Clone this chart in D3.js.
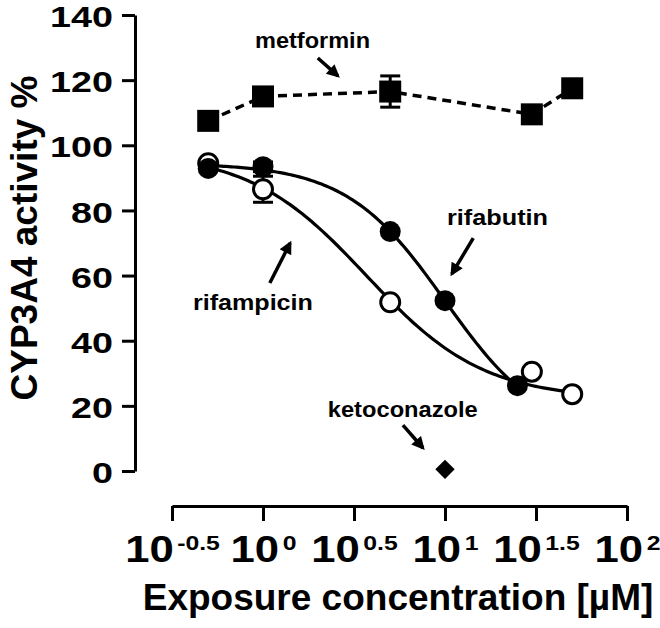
<!DOCTYPE html>
<html>
<head>
<meta charset="utf-8">
<script src="https://cdn.jsdelivr.net/npm/d3@7"></script>
<style>
  body { margin: 0; background: #fff; }
  text { font-family: "Liberation Sans", Arial, sans-serif; font-weight: bold; fill: #000; }
</style>
</head>
<body>
<div id="chart"></div>
<script>
// ---------- data ----------
const metforminX = [0.5, 1, 5, 30, 50];
const metforminY = [107.5, 115, 116.5, 109.5, 117.5];
const metforminErr = [0, 0, 4.8, 0, 0];

const rifabutinX = [0.5, 1, 5, 10, 25];
const rifabutinY = [92.9, 93.4, 73.5, 52.3, 26.2];
const rifabutinErr = [0, 1.5, 0, 0, 0];

const rifampicinX = [0.5, 1, 5, 30, 50];
const rifampicinY = [94.5, 86.5, 51.8, 30.5, 23.6];
const rifampicinErr = [0, 4, 0, 0, 0];

const ketoconazoleX = [10];
const ketoconazoleY = [0.5];

// fitted 4PL curves: [top, bottom, IC50, hill]
const rifabutinFit = [94.5, 10, 10, 1.6];
const rifampicinFit = [98, 22, 3.7, 1.35];

const yTicks = [0, 20, 40, 60, 80, 100, 120, 140];
const xTickExp = ["-0.5", "0", "0.5", "1", "1.5", "2"];

// annotations (data units): label, text x, text y, arrow from x/y, arrow to x/y
const noteLabels = ["metformin", "rifabutin", "rifampicin", "ketoconazole"];
const noteTextX = [0.904, 10.26, 0.412, 2.27];
const noteTextY = [129.9, 75.5, 49.4, 16.6];
const noteFromX = [2.0, 14.3, 1.09, 5.87];
const noteFromY = [126.8, 71.5, 57.7, 14.1];
const noteToX = [2.58, 10.9, 1.41, 7.57];
const noteToY = [121.3, 60.5, 70.0, 7.06];
const noteWidth = [115, 101, 120, 150];

// ---------- layout ----------
const width = 660, height = 628;
const xAxisY = 506, yAxisX = 135;

const svg = d3.select("#chart").append("svg")
    .attr("width", width)
    .attr("height", height)
    .style("background", "#fff");

const xScale = d3.scaleLog()
    .domain([Math.pow(10, -0.5), 100])
    .range([172, 627]);

const yScale = d3.scaleLinear()
    .domain([0, 140])
    .range([471, 15]);

// arrowhead
svg.append("defs").append("marker")
    .attr("id", "arrow")
    .attr("viewBox", "0 0 10 10")
    .attr("refX", 8)
    .attr("refY", 5)
    .attr("markerUnits", "userSpaceOnUse")
    .attr("markerWidth", 14)
    .attr("markerHeight", 13)
    .attr("orient", "auto")
    .append("path")
    .attr("d", "M0,0 L10,5 L0,10 z")
    .attr("fill", "#000");

// ---------- axes ----------
const leftAxis = d3.axisLeft(yScale)
    .tickValues(yTicks)
    .tickSize(13)
    .tickSizeOuter(0)
    .tickPadding(9);

const gy = svg.append("g")
    .attr("transform", `translate(${yAxisX},0)`)
    .call(leftAxis);
gy.select(".domain").attr("stroke-width", 3);
gy.selectAll(".tick line").attr("stroke-width", 3);
gy.selectAll(".tick text")
    .attr("font-size", 29)
    .attr("dy", "0.4em")
    .attr("x", -22 / 1.3)
    .attr("transform", "scale(1.3,1)");

const bottomAxis = d3.axisBottom(xScale)
    .tickValues(xTickExp.map(e => Math.pow(10, +e)))
    .tickSize(15)
    .tickSizeOuter(0)
    .tickFormat("");

const gx = svg.append("g")
    .attr("transform", `translate(0,${xAxisY})`)
    .call(bottomAxis);
gx.select(".domain").attr("stroke-width", 3);
gx.selectAll(".tick line").attr("stroke-width", 3);
gx.selectAll(".tick text").each(function(d, i) {
    const t = d3.select(this)
        .attr("y", 56)
        .attr("dy", 0)
        .attr("text-anchor", "middle")
        .attr("transform", "scale(1.18,1)");
    t.append("tspan").attr("font-size", 37).text("10");
    t.append("tspan").attr("font-size", 21).attr("dy", -12).attr("dx", 3).text(xTickExp[i]);
});

// axis titles
svg.append("text")
    .attr("x", 398)
    .attr("y", 610)
    .attr("text-anchor", "middle")
    .attr("font-size", 37)
    .text("Exposure concentration [µM]");

svg.append("text")
    .attr("transform", "translate(37,238) rotate(-90)")
    .attr("text-anchor", "middle")
    .attr("font-size", 37)
    .text("CYP3A4 activity %");

// ---------- lines ----------
const fitCurve = (fit, x0, x1) => {
    const [top, bottom, ic50, hill] = fit;
    const lx0 = Math.log10(x0), lx1 = Math.log10(x1);
    return d3.range(0, 121).map(i => {
        const x = Math.pow(10, lx0 + (lx1 - lx0) * i / 120);
        return [x, bottom + (top - bottom) / (1 + Math.pow(x / ic50, hill))];
    });
};

const line = d3.line()
    .x(d => xScale(d[0]))
    .y(d => yScale(d[1]));

svg.append("path")
    .datum(metforminX.map((x, i) => [x, metforminY[i]]))
    .attr("d", line)
    .attr("fill", "none")
    .attr("stroke", "#000")
    .attr("stroke-width", 3.5)
    .attr("stroke-dasharray", "9,6");

svg.append("path")
    .datum(fitCurve(rifampicinFit, 0.5, 50))
    .attr("d", line)
    .attr("fill", "none")
    .attr("stroke", "#000")
    .attr("stroke-width", 3.2);

svg.append("path")
    .datum(fitCurve(rifabutinFit, 0.5, 25))
    .attr("d", line)
    .attr("fill", "none")
    .attr("stroke", "#000")
    .attr("stroke-width", 3.2);

// ---------- error bars ----------
const drawErrors = (xs, ys, errs) => {
    const rows = xs.map((x, i) => ({ x, y: ys[i], e: errs[i] })).filter(d => d.e > 0);
    const g = svg.append("g").attr("stroke", "#000").attr("stroke-width", 3);
    rows.forEach(d => {
        const cx = xScale(d.x);
        g.append("line").attr("x1", cx).attr("x2", cx)
            .attr("y1", yScale(d.y - d.e)).attr("y2", yScale(d.y + d.e));
        [d.y - d.e, d.y + d.e].forEach(v => {
            g.append("line").attr("x1", cx - 10).attr("x2", cx + 10)
                .attr("y1", yScale(v)).attr("y2", yScale(v));
        });
    });
};
drawErrors(metforminX, metforminY, metforminErr);
drawErrors(rifampicinX, rifampicinY, rifampicinErr);
drawErrors(rifabutinX, rifabutinY, rifabutinErr);

// ---------- markers ----------
svg.append("g").selectAll("rect")
    .data(metforminX.map((x, i) => [x, metforminY[i]]))
    .join("rect")
    .attr("x", d => xScale(d[0]) - 11)
    .attr("y", d => yScale(d[1]) - 11)
    .attr("width", 22)
    .attr("height", 22)
    .attr("fill", "#000");

svg.append("g").selectAll("circle")
    .data(rifampicinX.map((x, i) => [x, rifampicinY[i]]))
    .join("circle")
    .attr("cx", d => xScale(d[0]))
    .attr("cy", d => yScale(d[1]))
    .attr("r", 9.5)
    .attr("fill", "#fff")
    .attr("stroke", "#000")
    .attr("stroke-width", 3);

svg.append("g").selectAll("circle")
    .data(rifabutinX.map((x, i) => [x, rifabutinY[i]]))
    .join("circle")
    .attr("cx", d => xScale(d[0]))
    .attr("cy", d => yScale(d[1]))
    .attr("r", 10.5)
    .attr("fill", "#000");

svg.append("g").selectAll("path")
    .data(ketoconazoleX.map((x, i) => [x, ketoconazoleY[i]]))
    .join("path")
    .attr("d", d3.symbol().type(d3.symbolDiamond2).size(240))
    .attr("transform", d => `translate(${xScale(d[0])},${yScale(d[1])})`)
    .attr("fill", "#000");

// ---------- annotations ----------
noteLabels.forEach((label, i) => {
    svg.append("text")
        .attr("x", xScale(noteTextX[i]))
        .attr("y", yScale(noteTextY[i]))
        .attr("font-size", 22)
        .attr("textLength", noteWidth[i])
        .attr("lengthAdjust", "spacingAndGlyphs")
        .text(label);
    svg.append("line")
        .attr("x1", xScale(noteFromX[i]))
        .attr("y1", yScale(noteFromY[i]))
        .attr("x2", xScale(noteToX[i]))
        .attr("y2", yScale(noteToY[i]))
        .attr("stroke", "#000")
        .attr("stroke-width", 3.5)
        .attr("marker-end", "url(#arrow)");
});
</script>
</body>
</html>
